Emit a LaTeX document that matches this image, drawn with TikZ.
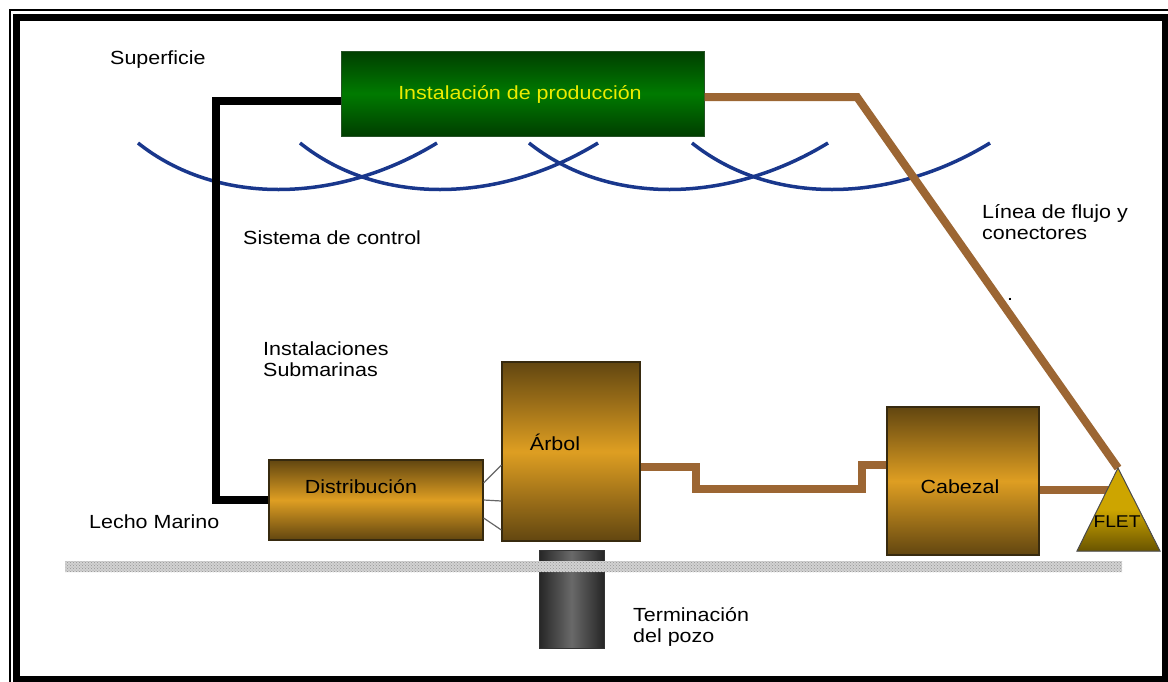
\documentclass[tikz,border=0pt]{standalone}
\usepackage{fontspec}
\setmainfont{Liberation Sans}[FakeStretch=1.13]
\usepackage{tikz}
\usetikzlibrary{calc, patterns}
\usepackage{xcolor}

\definecolor{flowbrown}{RGB}{156,102,51}
\definecolor{waveblue}{RGB}{25,55,140}
\definecolor{golddark}{RGB}{98,70,16}
\definecolor{goldmid}{RGB}{222,158,34}
\definecolor{goldedge}{RGB}{55,42,15}
\definecolor{greendark}{RGB}{0,62,0}
\definecolor{greenmid}{RGB}{0,122,0}
\definecolor{labelyellow}{RGB}{235,235,0}
\definecolor{wellgray}{RGB}{105,105,105}
\definecolor{welldark}{RGB}{38,38,38}
\definecolor{fletgold}{RGB}{205,165,0}
\definecolor{fletdark}{RGB}{105,84,0}

\begin{document}
\begin{tikzpicture}[x=1pt, y=-1pt,
  every node/.style={font=\fontsize{19}{20.5}\selectfont, inner sep=0pt},
  unit/.style={draw=goldedge, line width=1.2pt, top color=golddark, bottom color=golddark, middle color=goldmid},
  prodbox/.style={draw=greendark!70!gray, line width=1pt, top color=greendark, bottom color=greendark, middle color=greenmid, text=labelyellow},
  wave/.style={waveblue, line width=3.5pt},
  flowline/.style={flowbrown, line width=8pt},
  ctrlline/.style={black, line width=8pt},
  tether/.style={gray!80!black, line width=1.2pt}]
  \useasboundingbox (0,0) rectangle (1168,681);

  % frame
  \draw[line width=1.5pt] (10,690) -- (10,10) -- (1180,10);
  \draw[line width=7pt] (16.5,17) rectangle (1165,679.5);

  % sea surface
  \foreach \xs/\xe in {138/437, 300/598, 529/828, 692/990}
    \draw[wave] (\xs,143) .. controls ({\xs+0.26*(\xe-\xs)},205) and ({\xe-0.34*(\xe-\xs)},205) .. (\xe,143);

  \coordinate (C_T) at (216,101);
  \coordinate (C_B) at (216,500);
  \coordinate (F_bend) at (857,97);
  \coordinate (F_apex) at (1118,468);
  \coordinate (S_A) at (696,467);
  \coordinate (S_B) at (696,489);
  \coordinate (S_C) at (862,489);
  \coordinate (S_D) at (862,465);
  \coordinate (F_in) at (1112,490);

  \node[prodbox, minimum width=363pt, minimum height=85pt] (Prod) at (522.5,93.5) {};
  \node[text=labelyellow, anchor=base] (ProdText) at (520,99) {Instalación de producción};

  \node[unit, minimum width=214pt, minimum height=80pt] (Dist) at (376,500) {};
  \node[unit, minimum width=138pt, minimum height=179pt] (Arbol) at (571,451.5) {};
  \node[unit, minimum width=152pt, minimum height=148pt] (Cab) at (963,481) {};

  % lines
  \draw[ctrlline] (Prod.west |- C_T) -- (C_T) -- (C_B) -- (Dist.west |- C_B);
  \draw[flowline] (Prod.east |- F_bend) -- (F_bend) -- (F_apex);
  \draw[flowline] (Arbol.east |- S_A) -- (S_A) -- (S_B) -- (S_C) -- (S_D) -- (Cab.west |- S_D);
  \draw[flowline] (Cab.east |- F_in) -- (F_in);
  \foreach \a/\b in {-17/13.5, 0/49.5, 18/78.5}
    \draw[tether] ($(Dist.east)+(0,\a)$) -- ($(Arbol.west)+(0,\b)$);

  \node[anchor=base] (DistText) at (361,493) {Distribución};
  \node[anchor=base] (ArbolText) at (555,450) {Árbol};
  \node[anchor=base] (CabText) at (960,493) {Cabezal};

  \filldraw[draw=black!70, line width=1pt, top color=fletgold, bottom color=fletdark, middle color=fletgold] (F_apex) -- (1160,551) -- (1077,551) -- cycle;
  \node[anchor=base, font=\fontsize{17}{19}\selectfont] (FletText) at (1117,527) {FLET};

  % well and seabed
  \node[draw=black!80, line width=1pt, left color=welldark, right color=welldark, middle color=wellgray, minimum width=65pt, minimum height=98pt] (Well) at (571.5,599) {};
  \fill[gray!35] (65,561) rectangle (1122,572);
  \fill[pattern=crosshatch dots, pattern color=gray!85] (65,561) rectangle (1122,572);

  % labels
  \node[anchor=base west] (Sup) at (110,64) {Superficie};
  \node[anchor=base west] (Ctrl) at (243,244) {Sistema de control};
  \node[anchor=base west, align=left] (Sub) at (263,376) {Instalaciones\\Submarinas};
  \node[anchor=base west] (Lecho) at (89,528) {Lecho Marino};
  \node[anchor=base west, align=left] (Flujo) at (982,239) {Línea de flujo y\\conectores};
  \node[anchor=base west, align=left] (Term) at (633,642) {Terminación\\del pozo};
  \node[anchor=base] (Dot) at (1010,300) {.};
\end{tikzpicture}
\end{document}
